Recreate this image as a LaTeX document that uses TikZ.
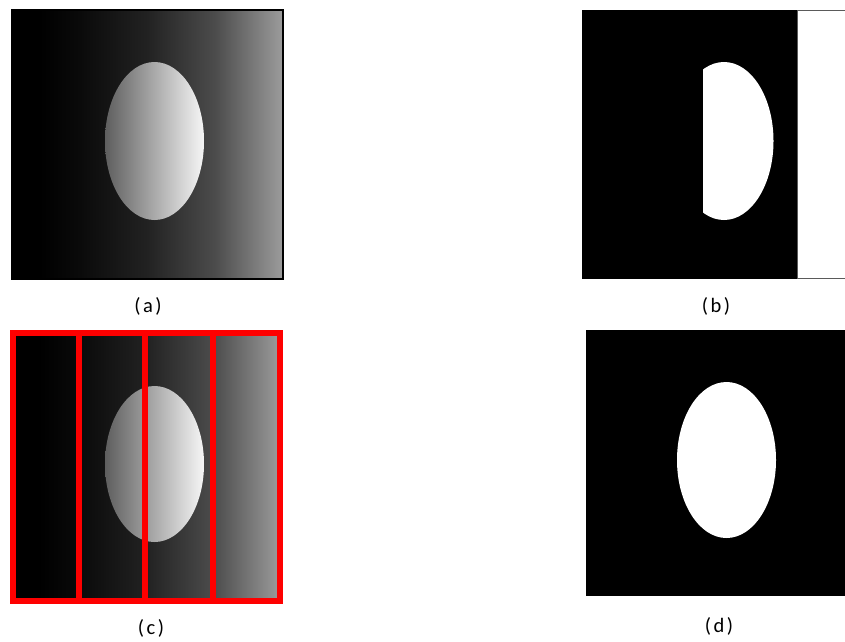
\documentclass[tikz,border=0pt]{standalone}
\usepackage{fontspec}
\setmainfont{Carlito}
\newfontfamily\lblfont[LetterSpace=12]{Carlito}
\definecolor{frame}{HTML}{FE0000}
\definecolor{rampA}{HTML}{0A0A0A}
\definecolor{rampB}{HTML}{222222}
\definecolor{rampC}{HTML}{4C4C4C}
\definecolor{rampD}{HTML}{9C9C9C}
\definecolor{blobL}{HTML}{5E5E5E}
\definecolor{blobR}{HTML}{F6F6F6}
\definecolor{edgegray}{HTML}{5A5A5A}
\usetikzlibrary{positioning}
\pgfdeclarehorizontalshading{ramp}{100bp}{color(0bp)=(black); color(30bp)=(black);
  color(37.5bp)=(rampA); color(50bp)=(rampB); color(62.5bp)=(rampC);
  color(75bp)=(rampD); color(100bp)=(rampD)}
\tikzset{
  photo/.style={shading=ramp},
  blob/.style={left color=blobL, right color=blobR},
  mask/.style={fill=white},
  strip/.style={draw=frame, line width=6pt},
  sublbl/.style={font=\lblfont\fontsize{20.5}{24}\selectfont, text=black, inner sep=1pt},
}
\begin{document}
\begin{tikzpicture}[x=1pt, y=-1pt]
    \useasboundingbox (0,0) rectangle (845,641);

    % (a)
    \shade[photo] (12,10) rectangle (283,279);
    \draw[line width=1.5pt] (12,10) rectangle (283,279);
    \shade[blob] (154.5,141) ellipse [x radius=49.5pt, y radius=79pt];
    \node[sublbl] (lblA) at (148,306) {(a)};

    % (b)
    \fill[black] (582,10) rectangle (845,279);
    \draw[mask, draw=edgegray, line width=0.8pt] (797,10.5) rectangle (846,278.5);
    \begin{scope}
      \clip (703,50) rectangle (790,230);
      \fill[mask] (724,141) ellipse [x radius=49.5pt, y radius=79pt];
    \end{scope}
    \node[sublbl] (lblB) at (716,306) {(b)};

    % (c)
    \shade[photo] (12,332) rectangle (281,602);
    \shade[blob] (154.5,464) ellipse [x radius=49.5pt, y radius=78pt];
    \draw[strip] (13,333) rectangle (79,601);
    \draw[strip] (79,333) rectangle (145,601);
    \draw[strip] (145,333) rectangle (212.5,601);
    \draw[strip] (212.5,333) rectangle (280,601);
    \node[sublbl] (lblC) at (151,628) {(c)};

    % (d)
    \fill[black] (586,330) rectangle (845,596);
    \fill[mask] (726.5,460) ellipse [x radius=49.5pt, y radius=78pt];
    \node[sublbl] (lblD) at (719,626) {(d)};
  \end{tikzpicture}
\end{document}
